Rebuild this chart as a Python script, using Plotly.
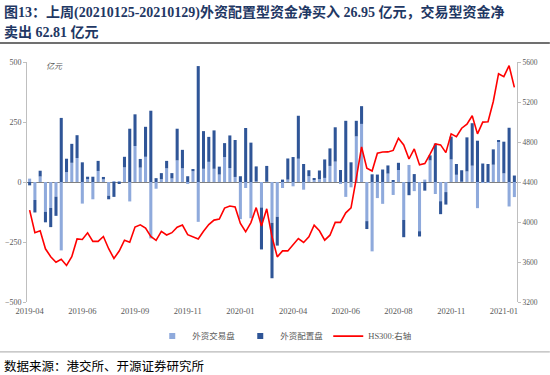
import plotly.graph_objects as go

# ---- data ----
week_index = list(range(93))
tick_pos = [0, 10, 20, 30, 40, 50, 60, 70, 80, 90]
tick_labels = ["2019-04", "2019-06", "2019-09", "2019-11", "2020-01",
               "2020-04", "2020-06", "2020-08", "2020-11", "2021-01"]

trading = [14, -75, 23, -124, -108, -61, -285, 41, 80, 100,
           -90, 12, -72, 46, 11, -57, 4, 3, 61, -81,
           150, 60, 105, -235, -28, 12, 57, 15, 90, 57,
           -6, 45, -166, 55, 84, 55, 31, 104, 58, 21,
           -155, -25, -151, 3, -106, 2, -170, -145, -25, 10,
           -18, 97, -32, 24, 9, 12, 17, 67, 85, -5,
           -62, -22, 190, 242, -163, -289, -67, -91, 35, -54,
           50, -158, 71, -38, -205, 10, 90, -50, -80, -42,
           94, 30, 2, 44, 68, -109, -3, -4, 72, 169,
           36, -102, -62.81]

allocation = [-14, -52, 24, -44, -80, -80, 267, 56, 79, 95,
              82, 10, 22, 42, 10, -15, -62, -7, 44, 222,
              132, 36, 125, 297, 16, 25, 31, 22, 132, 77,
              24, 9, 483, 157, 104, 160, 33, 58, 136, 154,
              24, 225, 164, 62, -175, 65, -231, -120, 10, 88,
              104, 179, 75, 25, 7, 36, 77, 73, 143, 50,
              255, 82, 65, 74, -33, 32, 31, 52, 34, 6,
              30, -72, -55, 33, -22, -36, 21, 160, -54, -52,
              95, 45, 47, 142, 177, 172, 77, 75, 64, 4,
              132, 226, 26.95]

hs300 = [4119, 3893, 3912, 3732, 3653, 3597, 3628, 3566, 3653, 3831,
         3825, 3892, 3806, 3806, 3855, 3733, 3635, 3710, 3818, 3797,
         3950, 3972, 3940, 3856, 3816, 3907, 3870, 3893, 3948, 3970,
         3873, 3852, 3830, 3907, 3974, 4019, 4029, 4139, 4160, 4150,
         3986, 3902, 3994, 4144, 3959, 4132, 3852, 3651, 3711, 3711,
         3775, 3835, 3795, 3852, 3969, 3912, 3818, 3868, 3996, 3996,
         4092, 4142, 4437, 4750, 4537, 4510, 4688, 4700, 4701, 4716,
         4838, 4770, 4630, 4731, 4571, 4584, 4678, 4781, 4771, 4694,
         4881, 4854, 4938, 4979, 5062, 4881, 4999, 5002, 5205, 5483,
         5453, 5563, 5346]

LIGHT = "#8FAADC"
DARK = "#2F5597"
RED = "#FF0000"
GRAY = "#595959"
AX = "#BFBFBF"
SERIF = "Liberation Serif, Times New Roman, Noto Sans CJK SC"
CJK = "Liberation Serif, Noto Sans CJK SC"

fig = go.Figure()
fig.add_trace(go.Bar(x=week_index, y=trading, name="外资交易盘",
                     marker=dict(color=LIGHT, line=dict(width=0)), showlegend=False))
fig.add_trace(go.Bar(x=week_index, y=allocation, name="外资配置盘",
                     marker=dict(color=DARK, line=dict(width=0)), showlegend=False))
fig.add_trace(go.Scatter(x=week_index, y=hs300, name="HS300:右轴", yaxis="y2",
                         mode="lines", line=dict(color=RED, width=1.6), showlegend=False))

# legend proxies (small squares like the reference)
fig.add_trace(go.Scatter(x=[None], y=[None], mode="markers", name="外资交易盘",
                         marker=dict(symbol="square", size=6, color=LIGHT)))
fig.add_trace(go.Scatter(x=[None], y=[None], mode="markers", name="外资配置盘",
                         marker=dict(symbol="square", size=6, color=DARK)))
fig.add_trace(go.Scatter(x=[None], y=[None], mode="lines", name="HS300:右轴",
                         line=dict(color=RED, width=1.6)))

fig.update_layout(
    width=550, height=375, autosize=False,
    margin=dict(l=27, r=33, t=62, b=73, autoexpand=False),
    paper_bgcolor="white", plot_bgcolor="white",
    barmode="relative", bargap=0.42,
    font=dict(family=SERIF, color=GRAY, size=8),
    xaxis=dict(range=[-0.5, 92.5], tickmode="array", tickvals=tick_pos,
               ticktext=tick_labels, showgrid=False, zeroline=False,
               showline=False, ticks="", tickfont=dict(size=8.5, color=GRAY),
               ticklabelstandoff=2, automargin=False),
    yaxis=dict(range=[-500, 500], tickvals=[-500, -250, 0, 250, 500],
               showgrid=False, zeroline=True, zerolinecolor="#808080", zerolinewidth=1,
               showline=True, linecolor=AX, linewidth=1, ticks="outside",
               ticklen=3, tickcolor=AX, tickfont=dict(size=8, color=GRAY),
               automargin=False),
    yaxis2=dict(range=[3200, 5600], tickvals=[3200, 3600, 4000, 4400, 4800, 5200, 5600],
                overlaying="y", side="right", showgrid=False, zeroline=False,
                showline=True, linecolor=AX, linewidth=1, ticks="outside",
                ticklen=3, tickcolor=AX, tickfont=dict(size=7.5, color=GRAY),
                automargin=False),
    legend=dict(orientation="h", x=0.525, xanchor="center", y=-0.142, yanchor="middle",
                font=dict(size=8.5, color=GRAY, family=CJK), itemwidth=30,
                bgcolor="rgba(0,0,0,0)", traceorder="normal"),
    showlegend=True,
)

TITLE_C = "#1F3864"
fig.add_annotation(xref="paper", yref="paper", x=-0.051, y=1.208, xanchor="left",
                   yanchor="middle", showarrow=False,
                   text="<b>图13：上周(20210125-20210129)外资配置型资金净买入 26.95 亿元，交易型资金净</b>",
                   font=dict(size=14, color=TITLE_C, family=CJK))
fig.add_annotation(xref="paper", yref="paper", x=-0.051, y=1.125, xanchor="left",
                   yanchor="middle", showarrow=False,
                   text="<b>卖出 62.81 亿元</b>",
                   font=dict(size=14, color=TITLE_C, family=CJK))
fig.add_annotation(xref="paper", yref="paper", x=0.035, y=0.983, xanchor="left",
                   yanchor="middle", showarrow=False, text="<i>亿元</i>",
                   font=dict(size=8, color=GRAY, family=CJK))
fig.add_annotation(xref="paper", yref="paper", x=-0.051, y=-0.27, xanchor="left",
                   yanchor="middle", showarrow=False, text="数据来源：港交所、开源证券研究所",
                   font=dict(size=12.5, color="#000000", family=CJK))

fig.add_shape(type="line", xref="paper", yref="paper", x0=-0.0551, x1=1.067,
              y0=1.079, y1=1.079, line=dict(color="#404040", width=1.5))
fig.add_shape(type="line", xref="paper", yref="paper", x0=-0.0551, x1=1.067,
              y0=-0.208, y1=-0.208, line=dict(color="#A6A6A6", width=1))

fig.write_html("out.html", config={"displayModeBar": False},
               post_script="document.body.style.margin='0';document.body.style.padding='0';")
